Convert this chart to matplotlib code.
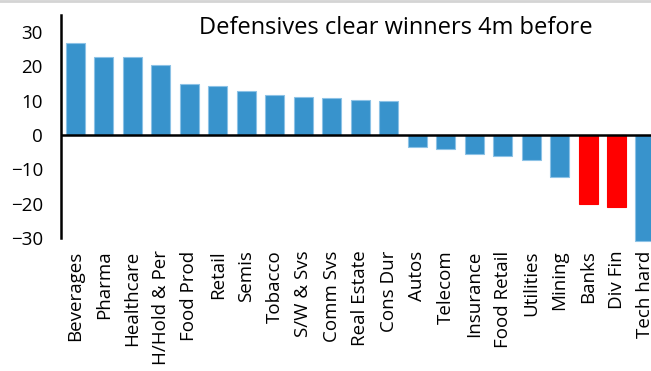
import matplotlib
matplotlib.use("Agg")
import matplotlib.pyplot as plt
from matplotlib.lines import Line2D

plt.rcParams['font.family'] = ['Open Sans', 'DejaVu Sans']

sectors = ['Beverages', 'Pharma', 'Healthcare', 'H/Hold & Per', 'Food Prod', 'Retail',
           'Semis', 'Tobacco', 'S/W & Svs', 'Comm Svs', 'Real Estate', 'Cons Dur',
           'Autos', 'Telecom', 'Insurance', 'Food Retail', 'Utilities', 'Mining',
           'Banks', 'Div Fin', 'Tech hard']
perf = [26.7, 22.9, 22.7, 20.4, 14.8, 14.2, 12.8, 11.6, 11.0, 10.9, 10.2, 9.8,
        -3.4, -4.2, -5.4, -6.1, -7.4, -12.2, -20.0, -20.9, -30.8]
highlight = ['Banks', 'Div Fin']

blue = '#3893cc'
red = '#ff0000'
colors = [red if s in highlight else blue for s in sectors]
edges = [red if s in highlight else '#8cc2e6' for s in sectors]

fig = plt.figure(figsize=(6.51, 3.71), dpi=100)
ax = fig.add_axes([0.0937, 0.3585, 0.919, 0.601])

x = range(len(sectors))
bars = ax.bar(x, perf, width=0.67, color=colors, edgecolor=edges, linewidth=0.8,
              clip_on=False, zorder=2)

ax.axhline(0, color='black', lw=1.8, zorder=3)
ax.set_xlim(-0.5, len(sectors) - 0.5)
ax.set_ylim(-30, 35)
ax.set_yticks([-30, -20, -10, 0, 10, 20, 30])
ax.set_xticks(list(x))
ax.set_xticklabels(sectors, rotation=90, fontsize=13.5)
ax.tick_params(axis='y', length=0, pad=13, labelsize=13.5)
ax.tick_params(axis='x', length=0, pad=9)

for side in ['top', 'right', 'bottom']:
    ax.spines[side].set_visible(False)
ax.spines['left'].set_linewidth(1.8)

fig.text(0.608, 0.925, 'Defensives clear winners 4m before', ha='center', va='center',
         fontsize=17)

# thin grey rule along the top edge
fig.add_artist(Line2D([0, 1], [0.997, 0.997], color='#d4d4d4', lw=2,
                      transform=fig.transFigure))

fig.savefig('out.png', dpi=100)
